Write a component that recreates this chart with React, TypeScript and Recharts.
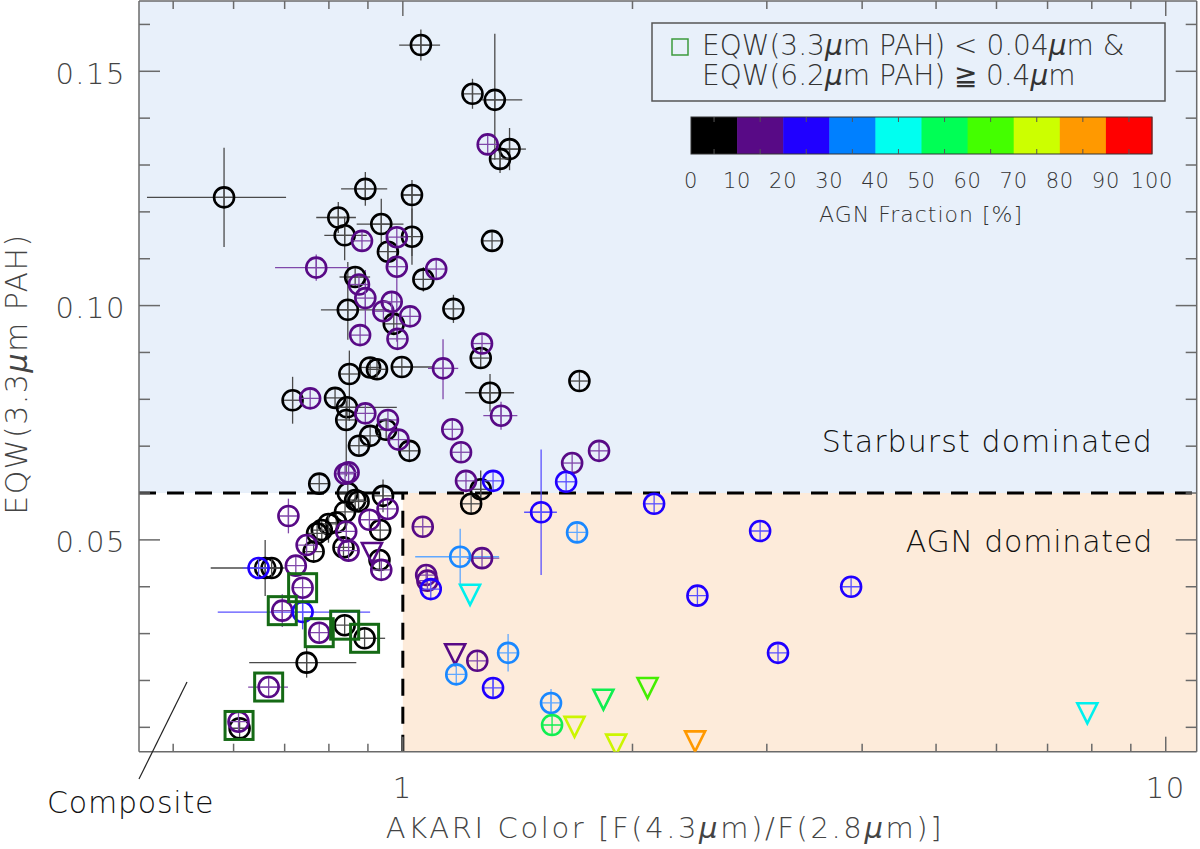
import React from 'react';
import {
  ScatterChart,
  Scatter,
  XAxis,
  YAxis,
  ErrorBar,
  ReferenceArea,
  ReferenceLine,
} from 'recharts';

type Pt = { x: number; y: number; ex?: [number, number]; ey?: [number, number]; lim?: boolean };

// AGN fraction 0-10 %
const agn0to10: Pt[] = [
  { x: 1.056, y: 0.1556, ex: [0.067, 0.063], ey: [0.0033, 0.0033] },
  { x: 1.234, y: 0.1452, ey: [0.0032, 0.0032] },
  { x: 1.32, y: 0.1439, ex: [0.05, 0.114], ey: [0.0128, 0.0141] },
  { x: 1.38, y: 0.1334, ex: [0.05, 0.07], ey: [0.0045, 0.0045] },
  { x: 1.341, y: 0.1313, ey: [0.003, 0.003] },
  { x: 1.309, y: 0.1138 },
  { x: 0.583, y: 0.1231, ex: [0.121, 0.12], ey: [0.0106, 0.0106] },
  { x: 0.893, y: 0.1249, ex: [0.063, 0.061], ey: [0.0036, 0.0036] },
  { x: 1.028, y: 0.1236, ex: [0.03, 0.03], ey: [0.013, 0.0032] },
  { x: 0.823, y: 0.1188, ex: [0.053, 0.045], ey: [0.0033, 0.0033] },
  { x: 0.839, y: 0.115, ex: [0.05, 0.058], ey: [0.0053, 0.004] },
  { x: 0.937, y: 0.1174, ex: [0.067, 0.065], ey: [0.0048, 0.0054] },
  { x: 1.028, y: 0.1147, ey: [0.006, 0.006] },
  { x: 0.956, y: 0.1115, ey: [0.003, 0.003] },
  { x: 1.064, y: 0.1056, ey: [0.0026, 0.0026] },
  { x: 0.866, y: 0.1061, ex: [0.04, 0.04] },
  { x: 0.847, y: 0.0991, ex: [0.066, 0.113], ey: [0.0064, 0.0102] },
  { x: 0.973, y: 0.0961 },
  { x: 1.165, y: 0.0993, ey: [0.003, 0.003] },
  { x: 0.851, y: 0.0854, ey: [0.01, 0.005] },
  { x: 0.906, y: 0.0868 },
  { x: 0.925, y: 0.0864 },
  { x: 0.997, y: 0.0869, ex: [0.03, 0.1] },
  { x: 1.265, y: 0.0888 },
  { x: 1.704, y: 0.0839 },
  { x: 1.301, y: 0.0814, ex: [0.094, 0.098], ey: [0.004, 0.004] },
  { x: 0.717, y: 0.0798, ey: [0.005, 0.005] },
  { x: 0.815, y: 0.0803 },
  { x: 0.845, y: 0.0783, ex: [0.042, 0.137] },
  { x: 0.843, y: 0.0756, ey: [0.012, 0.004] },
  { x: 0.951, y: 0.0735 },
  { x: 0.906, y: 0.0722 },
  { x: 0.876, y: 0.0701 },
  { x: 1.02, y: 0.069 },
  { x: 0.777, y: 0.062 },
  { x: 1.265, y: 0.0608, ey: [0.004, 0.004] },
  { x: 1.229, y: 0.0577 },
  { x: 0.847, y: 0.06 },
  { x: 0.866, y: 0.0585 },
  { x: 0.875, y: 0.0582 },
  { x: 0.942, y: 0.0594, ey: [0.0035, 0.0035] },
  { x: 0.84, y: 0.056 },
  { x: 0.818, y: 0.0537 },
  { x: 0.799, y: 0.0534, ey: [0.004, 0.002] },
  { x: 0.783, y: 0.0521 },
  { x: 0.772, y: 0.0514 },
  { x: 0.934, y: 0.0521 },
  { x: 0.764, y: 0.0475 },
  { x: 0.836, y: 0.0484 },
  { x: 0.932, y: 0.0457 },
  { x: 0.66, y: 0.044, ex: [0.1, 0.04], ey: [0.006, 0.006] },
  { x: 0.673, y: 0.044 },
  { x: 0.839, y: 0.0318 },
  { x: 0.891, y: 0.029, ex: [0.02, 0.057] },
  { x: 0.748, y: 0.0238, ex: [0.119, 0.121], ey: [0.0032, 0.0032] },
  { x: 0.611, y: 0.0098 },
];

// AGN fraction 10-20 %
const agn10to20: Pt[] = [
  { x: 1.292, y: 0.1344 },
  { x: 0.884, y: 0.1138 },
  { x: 0.982, y: 0.1146 },
  { x: 0.77, y: 0.1081, ex: [0.09, 0.083], ey: [0.0028, 0.0028] },
  { x: 0.982, y: 0.1083, ey: [0.016, 0.004] },
  { x: 1.106, y: 0.1078 },
  { x: 0.876, y: 0.1045 },
  { x: 0.893, y: 0.1016, ey: [0.006, 0.006] },
  { x: 0.943, y: 0.0988 },
  { x: 0.967, y: 0.1008 },
  { x: 1.022, y: 0.0977 },
  { x: 0.879, y: 0.0937 },
  { x: 0.984, y: 0.0929 },
  { x: 1.27, y: 0.0919 },
  { x: 1.129, y: 0.0866, ex: [0.05, 0.053], ey: [0.0066, 0.0062] },
  { x: 0.756, y: 0.0802 },
  { x: 0.893, y: 0.077 },
  { x: 0.956, y: 0.0756 },
  { x: 0.987, y: 0.0714 },
  { x: 1.161, y: 0.0736 },
  { x: 1.192, y: 0.0687 },
  { x: 1.345, y: 0.0765, ex: [0.07, 0.068], ey: [0.003, 0.003] },
  { x: 1.21, y: 0.0626 },
  { x: 1.808, y: 0.069 },
  { x: 1.667, y: 0.0664 },
  { x: 0.84, y: 0.0641 },
  { x: 0.849, y: 0.0644 },
  { x: 0.708, y: 0.0551, ey: [0.0037, 0.0037] },
  { x: 0.955, y: 0.0566 },
  { x: 0.904, y: 0.0543 },
  { x: 0.843, y: 0.0518 },
  { x: 0.748, y: 0.0489 },
  { x: 0.849, y: 0.0477 },
  { x: 0.937, y: 0.0436 },
  { x: 0.724, y: 0.0445 },
  { x: 1.062, y: 0.0528 },
  { x: 1.073, y: 0.0425 },
  { x: 1.077, y: 0.0413 },
  { x: 1.27, y: 0.0461, ex: [0.057, 0.068] },
  { x: 1.252, y: 0.0242 },
  { x: 0.739, y: 0.0398 },
  { x: 0.695, y: 0.0349, ey: [0.0035, 0.0035] },
  { x: 0.777, y: 0.0302 },
  { x: 0.667, y: 0.0186, ex: [0.04, 0.04] },
  { x: 0.609, y: 0.0112 },
  { x: 0.911, y: 0.0472, lim: true },
  { x: 1.171, y: 0.0256, lim: true },
];

// AGN fraction 20-30 %
const agn20to30: Pt[] = [
  { x: 1.313, y: 0.0626 },
  { x: 1.637, y: 0.0624 },
  { x: 1.518, y: 0.0559, ex: [0.076, 0.074], ey: [0.0134, 0.0134] },
  { x: 2.135, y: 0.0577 },
  { x: 2.94, y: 0.0519 },
  { x: 1.088, y: 0.0395 },
  { x: 0.647, y: 0.044, ex: [0.03, 0.03] },
  { x: 0.739, y: 0.0346, ex: [0.167, 0.167], ey: [0.0037, 0.0037] },
  { x: 2.433, y: 0.0381 },
  { x: 3.869, y: 0.04 },
  { x: 3.103, y: 0.0259 },
  { x: 1.313, y: 0.0184, ey: [0.002, 0.002] },
];

// AGN fraction 30-40 %
const agn30to40: Pt[] = [
  { x: 1.692, y: 0.0516 },
  { x: 1.189, y: 0.0464, ex: [0.151, 0.148], ey: [0.006, 0.006] },
  { x: 1.175, y: 0.0213 },
  { x: 1.374, y: 0.0259, ey: [0.004, 0.004] },
  { x: 1.564, y: 0.0152, ey: [0.003, 0.003] },
];

// AGN fraction 40-50 %
const agn40to50: Pt[] = [
  { x: 1.225, y: 0.0383, lim: true },
  { x: 7.893, y: 0.013, lim: true },
];

// AGN fraction 50-60 %
const agn50to60: Pt[] = [
  { x: 1.569, y: 0.0105 },
  { x: 1.832, y: 0.0159, lim: true },
];

// AGN fraction 60-70 %
const agn60to70: Pt[] = [{ x: 2.093, y: 0.0184, lim: true }];

// AGN fraction 70-80 %
const agn70to80: Pt[] = [
  { x: 1.679, y: 0.0101, lim: true },
  { x: 1.904, y: 0.0063, lim: true },
];

// AGN fraction 80-90 %
const agn80to90: Pt[] = [{ x: 2.416, y: 0.007, lim: true }];

// EQW(3.3) < 0.04 & EQW(6.2) >= 0.4 (green squares)
const flagged: Pt[] = [
  { x: 0.739, y: 0.0398 },
  { x: 0.695, y: 0.0349 },
  { x: 0.777, y: 0.0302 },
  { x: 0.839, y: 0.0318 },
  { x: 0.891, y: 0.029 },
  { x: 0.667, y: 0.0186 },
  { x: 0.61, y: 0.0104 },
];

const xDomain: [number, number] = [0.451, 10.98];
const yDomain: [number, number] = [0.0048, 0.165];
const xTicks = [0.5, 0.6, 0.7, 0.8, 0.9, 1, 2, 3, 4, 5, 6, 7, 8, 9, 10];
const xTickLabels: Record<string, string> = { '1': '1', '10': '10' };
const yTicks = [0.01, 0.02, 0.03, 0.04, 0.05, 0.06, 0.07, 0.08, 0.09, 0.1, 0.11, 0.12, 0.13, 0.14, 0.15, 0.16];
const yTickLabels: Record<string, string> = { '0.05': '0.05', '0.10': '0.10', '0.15': '0.15' };
const regionSplitY = 0.06;
const regionSplitX = 1;

const colorbarColors = ['#000000', '#580a86', '#2000ff', '#0080ff', '#00fff0', '#00ff55', '#44ff00', '#ccff00', '#ff9900', '#ff0000'];
const colorbarLabels = ['0', '10', '20', '30', '40', '50', '60', '70', '80', '90', '100'];

const FONT = "'DejaVu Sans', 'Liberation Sans', sans-serif";
const AXIS = '#6a6a6a';
const TXT = '#444444';

const seriesStyles = [
  { data: agn0to10, color: '#000000', err: '#4a4a4a' },
  { data: agn10to20, color: '#580a86', err: '#8048aa' },
  { data: agn20to30, color: '#2000ff', err: '#5a50ff' },
  { data: agn30to40, color: '#1a88ff', err: '#60a8ff' },
  { data: agn40to50, color: '#00f0ee', err: '#00f0ee' },
  { data: agn50to60, color: '#10ee50', err: '#10ee50' },
  { data: agn60to70, color: '#44ee00', err: '#44ee00' },
  { data: agn70to80, color: '#ccf500', err: '#ccf500' },
  { data: agn80to90, color: '#ff9900', err: '#ff9900' },
];

const makeShape = (color: string, light: string) => (props: any) => {
  const { cx, cy, payload } = props;
  if (cx == null || cy == null) return <g />;
  if (payload && payload.lim) {
    return (
      <path
        d={`M${cx - 10},${cy - 10} L${cx + 10},${cy - 10} L${cx},${cy + 10} Z`}
        fill="none"
        stroke={color}
        strokeWidth={2.6}
        strokeLinejoin="miter"
      />
    );
  }
  return (
    <g>
      <line x1={cx - 10} x2={cx + 10} y1={cy} y2={cy} stroke={light} strokeWidth={1.3} />
      <line x1={cx} x2={cx} y1={cy - 10} y2={cy + 10} stroke={light} strokeWidth={1.3} />
      <circle cx={cx} cy={cy} r={10} fill="none" stroke={color} strokeWidth={2.6} />
    </g>
  );
};

const squareShape = (props: any) => {
  const { cx, cy } = props;
  if (cx == null || cy == null) return <g />;
  return <rect x={cx - 14} y={cy - 14} width={28} height={28} fill="none" stroke="#156a15" strokeWidth={3} />;
};

const BottomTick = (props: any) => {
  const { x, y, payload } = props;
  const lab = xTickLabels[String(payload.value)];
  const len = lab ? 15 : 8;
  return (
    <g>
      <line x1={x} x2={x} y1={y} y2={y - len} stroke={AXIS} strokeWidth={1.5} />
      {lab && (
        <text x={x} y={y + 46} textAnchor="middle" fontSize={29} fill={TXT} fontFamily={FONT} fontWeight={200} letterSpacing={1.5}>
          {lab}
        </text>
      )}
    </g>
  );
};

const TopTick = (props: any) => {
  const { x, y, payload } = props;
  const major = !!xTickLabels[String(payload.value)];
  const len = major ? 15 : 8;
  return <line x1={x} x2={x} y1={y} y2={y + len} stroke={AXIS} strokeWidth={1.5} />;
};

const LeftTick = (props: any) => {
  const { x, y, payload } = props;
  const lab = yTickLabels[Number(payload.value).toFixed(2)];
  const len = lab ? 21 : 11;
  return (
    <g>
      <line x1={x} x2={x + len} y1={y} y2={y} stroke={AXIS} strokeWidth={1.5} />
      {lab && (
        <text x={x - 13} y={y + 12.5} textAnchor="end" fontSize={29} fill={TXT} fontFamily={FONT} fontWeight={200} letterSpacing={1.5}>
          {lab}
        </text>
      )}
    </g>
  );
};

const RightTick = (props: any) => {
  const { x, y, payload } = props;
  const major = !!yTickLabels[Number(payload.value).toFixed(2)];
  const len = major ? 21 : 11;
  return <line x1={x} x2={x - len} y1={y} y2={y} stroke={AXIS} strokeWidth={1.5} />;
};

const Mu = () => <tspan fontStyle="italic">μ</tspan>;

const Overlay = () => {
  const cbLeft = 691;
  const cbTop = 117;
  const segW = 46.1;
  const cbH = 37;
  return (
    <svg
      width={1200}
      height={849}
      style={{ position: 'absolute', left: 0, top: 0, pointerEvents: 'none' }}
    >
      <g fontFamily={FONT} fontWeight={200}>
        <text x={1153} y={452} textAnchor="end" fontSize={30} fill="#111" letterSpacing={1.1}>
          Starburst dominated
        </text>
        <text x={1153} y={552} textAnchor="end" fontSize={30} fill="#111" letterSpacing={0.8}>
          AGN dominated
        </text>
        <text x={47} y={813} fontSize={30} fill="#111" letterSpacing={0.8}>
          Composite
        </text>
        <line x1={139} y1={779} x2={187} y2={682} stroke="#222" strokeWidth={1.2} />

        <text x={665} y={838} textAnchor="middle" fontSize={29} fill={TXT} letterSpacing={2.6}>
          AKARI Color [F(4.3<Mu />m)/F(2.8<Mu />m)]
        </text>
        <text
          x={27}
          y={374}
          textAnchor="middle"
          fontSize={30}
          fill={TXT}
          letterSpacing={1.5}
          transform="rotate(-90 27 374)"
        >
          EQW(3.3<Mu />m PAH)
        </text>

        <rect x={652} y={23} width={513} height={78} fill="none" stroke="#555" strokeWidth={1.5} />
        <rect x={672} y={39} width={16} height={16} fill="none" stroke="#3c9a3c" strokeWidth={1.5} />
        <text x={702} y={55} fontSize={28} fill="#333">
          EQW(3.3<Mu />m PAH) {'<'} 0.04<Mu />m &amp;
        </text>
        <text x={702} y={85} fontSize={28} fill="#333">
          EQW(6.2<Mu />m PAH) ≧ 0.4<Mu />m
        </text>

        {colorbarColors.map((c, i) => (
          <rect key={c} x={cbLeft + i * segW} y={cbTop} width={segW + 0.5} height={cbH} fill={c} />
        ))}
        <rect x={cbLeft} y={cbTop} width={segW * 10} height={cbH} fill="none" stroke="#333" strokeWidth={1} />
        {colorbarColors.map((c, i) => (
          <g key={'t' + i}>
            <line x1={cbLeft + (i + 0.5) * segW} x2={cbLeft + (i + 0.5) * segW} y1={cbTop} y2={cbTop + 5} stroke="#555" strokeWidth={1} />
            <line x1={cbLeft + (i + 0.5) * segW} x2={cbLeft + (i + 0.5) * segW} y1={cbTop + cbH} y2={cbTop + cbH - 5} stroke="#555" strokeWidth={1} />
          </g>
        ))}
        {colorbarLabels.map((l, i) => (
          <text key={l} x={cbLeft + i * segW} y={188} textAnchor="middle" fontSize={21} fill="#333" letterSpacing={0.8}>
            {l}
          </text>
        ))}
        <text x={921} y={222} textAnchor="middle" fontSize={22} fill="#333" letterSpacing={1}>
          AGN Fraction [%]
        </text>
      </g>
    </svg>
  );
};

export default function App() {
  return (
    <div style={{ position: 'absolute', left: 0, top: 0, width: 1200, height: 849, background: '#fff' }}>
      <ScatterChart width={1200} height={849} margin={{ top: 0, right: 0, bottom: 0, left: 0 }}>
        <XAxis
          xAxisId="b"
          dataKey="x"
          type="number"
          scale="log"
          domain={xDomain}
          allowDataOverflow
          ticks={xTicks}
          interval={0}
          orientation="bottom"
          height={97.3}
          tickLine={false}
          tickSize={0}
          tickMargin={0}
          stroke={AXIS}
          strokeWidth={1.5}
          tick={(p: any) => <BottomTick {...p} />}
        />
        <XAxis
          xAxisId="t"
          dataKey="x"
          type="number"
          scale="log"
          domain={xDomain}
          allowDataOverflow
          ticks={xTicks}
          interval={0}
          orientation="top"
          height={1}
          tickLine={false}
          tickSize={0}
          tickMargin={0}
          stroke={AXIS}
          strokeWidth={1.5}
          tick={(p: any) => <TopTick {...p} />}
        />
        <YAxis
          yAxisId="l"
          dataKey="y"
          type="number"
          domain={yDomain}
          allowDataOverflow
          ticks={yTicks}
          interval={0}
          orientation="left"
          width={139}
          tickLine={false}
          tickSize={0}
          tickMargin={0}
          stroke={AXIS}
          strokeWidth={1.5}
          tick={(p: any) => <LeftTick {...p} />}
        />
        <YAxis
          yAxisId="r"
          dataKey="y"
          type="number"
          domain={yDomain}
          allowDataOverflow
          ticks={yTicks}
          interval={0}
          orientation="right"
          width={3.3}
          tickLine={false}
          tickSize={0}
          tickMargin={0}
          stroke={AXIS}
          strokeWidth={1.5}
          tick={(p: any) => <RightTick {...p} />}
        />
        <ReferenceArea xAxisId="b" yAxisId="l" x1={xDomain[0]} x2={xDomain[1]} y1={regionSplitY} y2={yDomain[1]} fill="#e8f0fa" fillOpacity={1} stroke="none" />
        <ReferenceArea xAxisId="b" yAxisId="l" x1={regionSplitX} x2={xDomain[1]} y1={yDomain[0]} y2={regionSplitY} fill="#fdebda" fillOpacity={1} stroke="none" />
        <ReferenceLine xAxisId="b" yAxisId="l" y={regionSplitY} stroke="#000" strokeWidth={3} strokeDasharray="17 11" />
        <ReferenceLine
          xAxisId="b"
          yAxisId="l"
          segment={[
            { x: regionSplitX, y: yDomain[0] },
            { x: regionSplitX, y: regionSplitY },
          ]}
          stroke="#000"
          strokeWidth={3}
          strokeDasharray="17 11"
        />
        {seriesStyles.map((s, i) => (
          <Scatter
            key={i}
            xAxisId="b"
            yAxisId="l"
            data={s.data}
            isAnimationActive={false}
            shape={makeShape(s.color, s.err)}
          >
            <ErrorBar dataKey="ex" direction="x" width={0} stroke={s.err} strokeWidth={1.3} isAnimationActive={false} />
            <ErrorBar dataKey="ey" direction="y" width={0} stroke={s.err} strokeWidth={1.3} isAnimationActive={false} />
          </Scatter>
        ))}
        <Scatter xAxisId="b" yAxisId="l" data={flagged} isAnimationActive={false} shape={squareShape} />
      </ScatterChart>
      <Overlay />
    </div>
  );
}
